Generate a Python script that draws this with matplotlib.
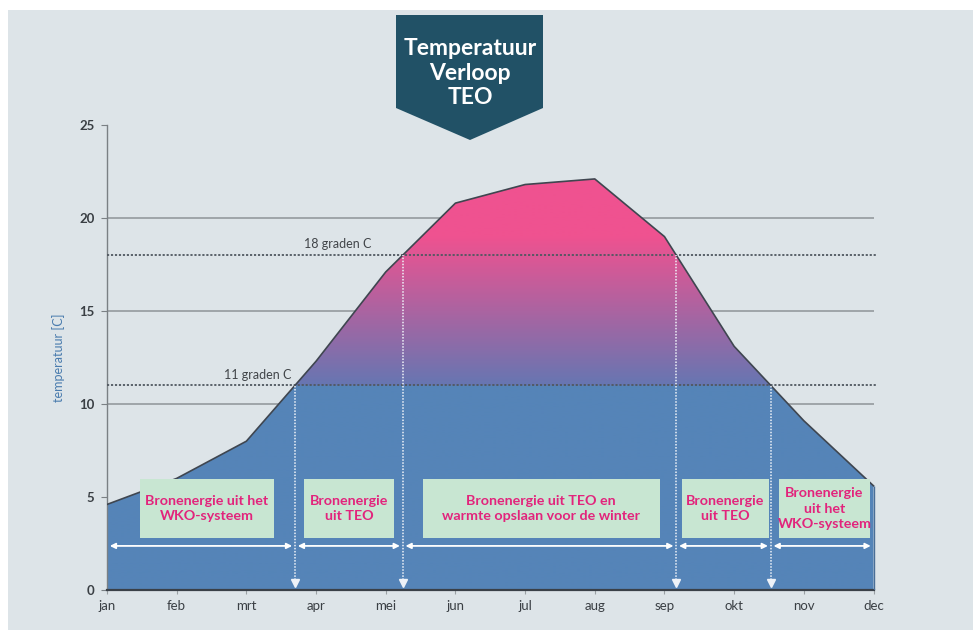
import numpy as np
import matplotlib
matplotlib.use("Agg")
import matplotlib.pyplot as plt
from matplotlib.colors import to_rgb
from matplotlib.patches import Polygon, Rectangle

# data
months = ["jan", "feb", "mrt", "apr", "mei", "jun", "jul", "aug", "sep", "okt", "nov", "dec"]
temps = [4.6, 6.0, 8.0, 12.3, 17.1, 20.8, 21.8, 22.1, 19.0, 13.1, 9.1, 5.6]
levels = [11, 18]
level_labels = ["11 graden C", "18 graden C"]
box_texts = [
    "Bronenergie uit het\nWKO-systeem",
    "Bronenergie\nuit TEO",
    "Bronenergie uit TEO en\nwarmte opslaan voor de winter",
    "Bronenergie\nuit TEO",
    "Bronenergie\nuit het\nWKO-systeem",
]

BG = "#DDE4E8"
BLUE = "#5584B8"
PINK = "#EF5290"
DARK = "#3F4650"
BOXC = "#C8E6D2"
TXTPINK = "#E2247C"

x = np.arange(len(months))
y = np.array(temps)


def crossings(xs, ys, level):
    out = []
    for i in range(len(xs) - 1):
        y0, y1 = ys[i], ys[i + 1]
        if (y0 - level) * (y1 - level) < 0:
            out.append(xs[i] + (level - y0) / (y1 - y0) * (xs[i + 1] - xs[i]))
    return out


cross = sorted(crossings(x, y, 11) + crossings(x, y, 18))

plt.rcParams["font.family"] = ["Lato", "DejaVu Sans"]

fig = plt.figure(figsize=(9.73, 6.30), dpi=100, facecolor="white")
fig.patches.append(Rectangle((8 / 973, 0), 1, 1 - 10 / 630, transform=fig.transFigure,
                             facecolor=BG, edgecolor="none", zorder=-5))
ax = fig.add_axes([107 / 973, 1 - 590 / 630, (877 - 107) / 973, (590 - 125) / 630])
ax.set_facecolor("none")

# solid grid lines (behind the area)
ax.hlines([10, 15, 20], 0, 11, colors="#8E9498", linewidth=1.1, zorder=1)

# gradient area
poly = ax.fill_between(x, 0, y, facecolor="none", edgecolor="none", zorder=2)
yy = np.linspace(0, 25, 500)
c_low, c_mid, c_top = np.array(to_rgb(BLUE)), np.array(to_rgb("#6676B2")), np.array(to_rgb(PINK))
grad = np.zeros((len(yy), 1, 3))
for i, v in enumerate(yy):
    if v < 11:
        grad[i, 0] = c_low
    else:
        t = min(max((v - 11) / 8.0, 0), 1)
        grad[i, 0] = c_mid * (1 - t) + c_top * t
im = ax.imshow(grad, extent=[0, 11, 0, 25], origin="lower", aspect="auto", zorder=2,
               interpolation="bilinear")
im.set_clip_path(poly.get_paths()[0], transform=ax.transData)

# dotted threshold lines and labels
ax.hlines(levels, 0, 11.05, colors="#505860", linestyles=(0, (1.2, 1.0)), linewidth=1.3, zorder=3)
ax.text(2.64, 11.25, level_labels[0], ha="right", va="bottom", fontsize=9, color="#404448", zorder=3)
ax.text(3.80, 18.3, level_labels[1], ha="right", va="bottom", fontsize=9, color="#404448", zorder=3)

# outline
ax.plot(x, y, color=DARK, linewidth=1.2, zorder=4)
ax.vlines(x[-1], 0, y[-1], colors="#4A6E96", linewidth=1.0, zorder=4)

# vertical white dotted markers
for c in cross:
    top = np.interp(c, x, y)
    ax.vlines(c, 0.35, top, colors="#EEF2F8", linestyles=(0, (1, 1)), linewidth=1.1, zorder=4)
    ax.plot(c, 0.35, marker="v", color="#EEF2F8", markersize=5.5, zorder=4)

# horizontal double arrows
bounds = [0] + cross + [11]
for a, b in zip(bounds[:-1], bounds[1:]):
    ax.annotate("", xy=(a + 0.04, 2.37), xytext=(b - 0.04, 2.37),
                arrowprops=dict(arrowstyle="<|-|>", color="white", lw=1.3,
                                mutation_scale=8, shrinkA=0, shrinkB=0), zorder=5)

# text boxes
box_spans = [(0.47, 2.40), (2.83, 4.12), (4.53, 7.93), (8.25, 9.50), (9.64, 10.95)]
for (x0, x1), t in zip(box_spans, box_texts):
    ax.add_patch(Rectangle((x0, 2.78), x1 - x0, 3.18, facecolor=BOXC, edgecolor="none", zorder=5))
    ax.text((x0 + x1) / 2, 4.37, t, ha="center", va="center", fontsize=10.3, fontweight="bold",
            color=TXTPINK, linespacing=1.35, zorder=6)

# axes styling
ax.set_xlim(0, 11.05)
ax.set_ylim(0, 25)
for s in ["top", "right"]:
    ax.spines[s].set_visible(False)
ax.spines["left"].set_color("#7A8084")
ax.spines["left"].set_linewidth(1.0)
ax.spines["bottom"].set_color("#3A4048")
ax.spines["bottom"].set_linewidth(1.6)
ax.spines["bottom"].set_bounds(0, 11)
ax.set_xticks(x)
ax.set_xticklabels(months)
ax.set_yticks([0, 5, 10, 15, 20, 25])
ax.tick_params(axis="y", length=4, color="#7A8084", labelsize=9.5, labelcolor="#3A3F44", pad=5)
ax.tick_params(axis="x", length=3, color="#9AA0A4", labelsize=9.5, labelcolor="#3A3F44", pad=4)
for lab in ax.get_yticklabels():
    lab.set_fontweight("bold")
ax.set_ylabel("temperatuur [C]", fontsize=9, color="#4A7CAE", labelpad=10)

# title banner
pts = [(396, 15), (543, 15), (543, 108), (470, 140), (396, 108)]
fig.patches.append(Polygon([(px / 973, 1 - py / 630) for px, py in pts], closed=True,
                           transform=fig.transFigure, facecolor="#215166", edgecolor="none", zorder=1))
fig.text(470 / 973, 1 - 73 / 630, "Temperatuur\nVerloop\nTEO", ha="center", va="center",
         fontsize=16.5, fontweight="bold", color="white", linespacing=1.2)

fig.savefig("out.png", dpi=100, facecolor=fig.get_facecolor())
